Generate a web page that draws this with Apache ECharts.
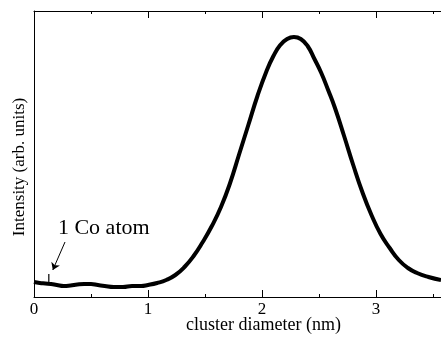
<!DOCTYPE html>
<html><head><meta charset="utf-8">
<script src="https://cdn.jsdelivr.net/npm/echarts@6/dist/echarts.min.js"></script>
<style>html,body{margin:0;padding:0;background:#fff}#c{width:441px;height:337px}</style>
</head><body><div id="c"></div>
<script>
// cluster diameter (nm)
var diameters = [0.00,0.05,0.10,0.15,0.20,0.26,0.32,0.38,0.44,0.50,0.56,0.62,0.70,0.78,0.86,0.94,1.00,1.08,1.16,1.24,1.32,1.40,1.48,1.56,1.64,1.72,1.80,1.88,1.96,2.04,2.10,2.16,2.22,2.28,2.34,2.40,2.46,2.52,2.58,2.64,2.72,2.80,2.88,2.96,3.04,3.12,3.20,3.28,3.36,3.46,3.57];
// intensity (arb. units)
var intensity = [15,14,13.5,13,12,11,11.5,12.5,13,13,12,11,10,10,11,11,12,14,17,22,30,41,55,71,90,114,143,172,201,226,241,252,258,260,258,251,238,224,207,189,161,132,105,82,63,49,37,29,24,20,17];
// single-atom peak (thin spike)
var spikeX = [0.13,0.13];
var spikeY = [14,23];
var majorTicks = [0,1,2,3];
var minorTicks = [0.5,1.5,2.5,3.5];
var annotationText = '1 Co atom';

var pts = diameters.map(function(d,i){return [d,intensity[i]];});
var spike = spikeX.map(function(d,i){return [d,spikeY[i]];});
var font = 'Liberation Serif';
var chart = echarts.init(document.getElementById('c'));
function xAx(pos, ticks, len, labels, line){
  return {type:'value', position:pos, min:0, max:3.57, gridIndex:0,
    axisLine:{show:line, onZero:false, lineStyle:{color:'#000', width:1}},
    axisTick:{show:true, inside:true, length:len, customValues:ticks, lineStyle:{color:'#000', width:1}},
    axisLabel:labels ? {show:true, customValues:majorTicks, color:'#000', fontFamily:font, fontSize:17, margin:4} : {show:false},
    splitLine:{show:false}};
}
var xa = [xAx('bottom', majorTicks, 7, true, true), xAx('bottom', minorTicks, 3, false, false),
          xAx('top', majorTicks, 7, false, true), xAx('top', minorTicks, 3, false, false)];
xa[0].name = 'cluster diameter (nm)';
xa[0].nameLocation = 'middle';
xa[0].nameGap = 19;
xa[0].nameMoveOverlap = false;
xa[0].nameTextStyle = {color:'#000', fontFamily:font, fontSize:18, padding:[0,0,0,52]};
chart.setOption({
  animation:false,
  grid:{left:34, right:0, top:11, bottom:40, containLabel:false, outerBoundsMode:'none'},
  xAxis: xa,
  yAxis:{type:'value', min:0, max:286, name:'Intensity (arb. units)', nameLocation:'middle', nameGap:6, nameMoveOverlap:false,
    nameTextStyle:{color:'#000', fontFamily:font, fontSize:17, padding:[0,26,0,0]},
    axisLine:{show:true, lineStyle:{color:'#000', width:1}}, axisTick:{show:false}, axisLabel:{show:false}, splitLine:{show:false}},
  series:[{type:'line', data:pts, xAxisIndex:0, smooth:0.5, showSymbol:false, lineStyle:{color:'#000', width:4},
    markLine:{silent:true, symbol:['none','arrow'], symbolSize:7, label:{show:false},
      lineStyle:{color:'#000', width:1, type:'solid'},
      data:[[{coord:[0.272,55]},{coord:[0.165,27]}]]}},
    {type:'line', data:spike, xAxisIndex:0, showSymbol:false, lineStyle:{color:'#000', width:1.2}}]
});
var p = chart.convertToPixel({xAxisIndex:0, yAxisIndex:0}, [0.21, 80]);
chart.setOption({graphic:[{type:'text', x:p[0], y:p[1], style:{text:annotationText, fill:'#000', font:'22px "Liberation Serif"', verticalAlign:'top'}}]});
</script></body></html>
